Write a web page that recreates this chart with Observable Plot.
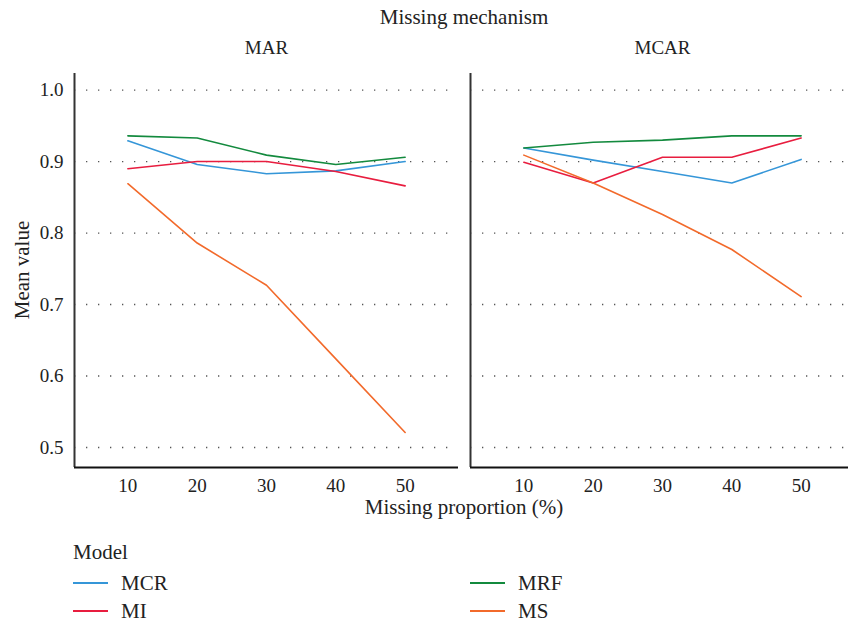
<!DOCTYPE html>
<html><head><meta charset="utf-8">
<script src="https://cdn.jsdelivr.net/npm/d3@7"></script>
<script src="https://cdn.jsdelivr.net/npm/@observablehq/plot@0.6"></script>
<style>
html,body{margin:0;padding:0;overflow:hidden;background:#fff}
body{font-family:"Liberation Serif",serif;color:#222}
#wrap{position:relative;width:854px;height:622px}
#wrap svg{position:absolute;left:0;top:0}
.abs{position:absolute;white-space:nowrap;font-size:21px;line-height:1}
.sw{position:absolute;height:2px;width:35px}
</style></head><body><div id="wrap"></div>
<script>
const mechanisms = ["MAR", "MCAR"];
const models = ["MCR", "MI", "MRF", "MS"];
const modelColors = ["#3596d8", "#e81d3f", "#138a3e", "#f26a2b"];
const proportions = [10, 20, 30, 40, 50];
const yTicks = [0.5, 0.6, 0.7, 0.8, 0.9, 1.0];

// MAR values by model (proportion 10..50)
const MAR_MCR = [0.929, 0.896, 0.883, 0.887, 0.900];
const MAR_MI  = [0.890, 0.900, 0.900, 0.886, 0.866];
const MAR_MRF = [0.936, 0.933, 0.909, 0.896, 0.906];
const MAR_MS  = [0.869, 0.786, 0.727, 0.624, 0.521];
// MCAR values by model
const MCAR_MCR = [0.919, 0.902, 0.886, 0.870, 0.903];
const MCAR_MI  = [0.899, 0.870, 0.906, 0.906, 0.933];
const MCAR_MRF = [0.919, 0.927, 0.930, 0.936, 0.936];
const MCAR_MS  = [0.909, 0.870, 0.826, 0.777, 0.711];

const series = {
  MAR: {MCR: MAR_MCR, MI: MAR_MI, MRF: MAR_MRF, MS: MAR_MS},
  MCAR: {MCR: MCAR_MCR, MI: MCAR_MI, MRF: MCAR_MRF, MS: MCAR_MS}
};
const rows = [];
for (const mech of mechanisms)
  for (const model of models)
    series[mech][model].forEach((v, i) => rows.push({mech, model, p: proportions[i], v}));

const xDom = [2.3, 57.7];
const yDom = [0.472, 1.0232];

const chart = Plot.plot({
  width: 854,
  height: 520,
  marginTop: 73,
  marginBottom: 53,
  marginLeft: 74,
  marginRight: 0,
  style: {fontFamily: "Liberation Serif, serif", fontSize: "19px", color: "#222", background: "transparent", overflow: "visible"},
  facet: {data: rows, x: "mech"},
  fx: {domain: mechanisms, paddingInner: 0.0303, paddingOuter: 0, round: false, axis: "top", label: null, tickSize: 0, tickPadding: 20},
  x: {domain: xDom, ticks: proportions, tickSize: 0, tickPadding: 11, label: null},
  y: {domain: yDom, ticks: yTicks, tickFormat: ".1f", tickSize: 0, tickPadding: 11, label: null},
  color: {domain: models, range: modelColors},
  marks: [
    Plot.ruleY(yTicks, {stroke: "#555", strokeWidth: 1.3, strokeDasharray: "1.3,10.7"}),
    Plot.ruleX([xDom[0]], {stroke: "#333", strokeWidth: 2}),
    Plot.ruleY([yDom[0]], {stroke: "#111", strokeWidth: 2}),
    Plot.line(rows, {x: "p", y: "v", z: "model", stroke: "model", strokeWidth: 1.6})
  ]
});

const wrap = document.getElementById("wrap");
wrap.appendChild(chart);

function addText(txt, left, top, extra) {
  const d = document.createElement("div");
  d.className = "abs";
  d.textContent = txt;
  d.style.left = left + "px";
  d.style.top = top + "px";
  if (extra) Object.assign(d.style, extra);
  wrap.appendChild(d);
  return d;
}
addText("Missing mechanism", 464, 17, {transform: "translate(-50%,-50%)", lineHeight: "21px"});
addText("Missing proportion (%)", 464, 507, {transform: "translate(-50%,-50%)", lineHeight: "14px"});
addText("Mean value", 22, 270, {transform: "translate(-50%,-50%) rotate(-90deg)", lineHeight: "21px"});
addText("Model", 73, 542);

// legend: two columns, column-major
const colX = [73, 470];
const rowY = [583, 611];
models.forEach((m, i) => {
  const col = Math.floor(i / 2), row = i % 2;
  const sw = document.createElement("div");
  sw.className = "sw";
  sw.style.left = colX[col] + "px";
  sw.style.top = (rowY[row] - 1) + "px";
  sw.style.background = modelColors[i];
  wrap.appendChild(sw);
  addText(m, colX[col] + 48, rowY[row] - 10.5);
});
</script>
</body></html>
